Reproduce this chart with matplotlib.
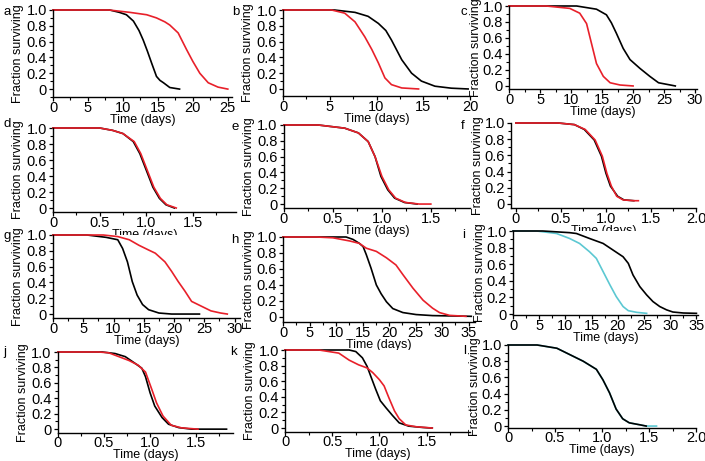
import matplotlib
matplotlib.use('Agg')
from matplotlib import pyplot as plt
from matplotlib.ticker import MultipleLocator, FuncFormatter

plt.rcParams['font.family'] = ['Liberation Sans', 'DejaVu Sans']

RED = '#e8202a'
CYAN = '#5cc8d2'
BLACK = '#000000'

# survival curves: time (days), fraction surviving
a_black_t = [0, 8.1, 9.5, 10.5, 11.5, 12.3, 12.9, 13.5, 14.1, 14.8, 15.3, 15.8, 16.7, 18.1]
a_black_s = [1.0, 1.0, 0.97, 0.94, 0.86, 0.74, 0.62, 0.48, 0.33, 0.16, 0.11, 0.08, 0.02, 0.0]
a_red_t = [0, 8, 11, 13.4, 14.8, 16.0, 16.7, 17.9, 19.1, 20.0, 21.0, 22.2, 23.6, 25.0]
a_red_s = [1.0, 1.0, 0.97, 0.94, 0.90, 0.85, 0.81, 0.71, 0.50, 0.35, 0.20, 0.08, 0.025, 0.0]

b_black_t = [0, 5.5, 7.7, 9.1, 10.2, 11.0, 11.6, 12.7, 13.75, 14.8, 16.25, 18.0, 19.8]
b_black_s = [1.0, 1.0, 0.97, 0.92, 0.83, 0.74, 0.62, 0.37, 0.20, 0.10, 0.035, 0.01, 0.0]
b_red_t = [0, 5.2, 6.6, 7.7, 8.75, 9.5, 10.2, 10.9, 11.6, 12.7, 14.5]
b_red_s = [1.0, 1.0, 0.96, 0.85, 0.66, 0.50, 0.33, 0.14, 0.055, 0.013, 0.0]

c_red_t = [0, 6, 9.8, 11.4, 12.5, 13.3, 14.1, 15.2, 16.3, 17.9, 20.0]
c_red_s = [1.0, 1.0, 0.97, 0.91, 0.78, 0.53, 0.28, 0.12, 0.04, 0.012, 0.0]
c_black_t = [0, 10.9, 14.1, 15.7, 16.5, 17.3, 18.4, 19.5, 21.1, 22.7, 24.1, 26.0, 26.8]
c_black_s = [1.0, 1.0, 0.96, 0.89, 0.79, 0.66, 0.47, 0.33, 0.22, 0.12, 0.04, 0.012, 0.0]

d_black_t = [0, 0.5, 0.64, 0.75, 0.86, 0.93, 1.0, 1.07, 1.14, 1.21, 1.30]
d_black_s = [1.0, 1.0, 0.97, 0.93, 0.83, 0.68, 0.47, 0.26, 0.12, 0.04, 0.0]
d_red_t = [0, 0.5, 0.64, 0.75, 0.87, 0.94, 1.01, 1.08, 1.15, 1.22, 1.32]
d_red_s = [1.0, 1.0, 0.97, 0.93, 0.83, 0.68, 0.47, 0.26, 0.12, 0.04, 0.0]

e_black_t = [0, 0.35, 0.62, 0.76, 0.86, 0.93, 0.99, 1.06, 1.13, 1.23, 1.36]
e_black_s = [1.0, 1.0, 0.96, 0.90, 0.79, 0.60, 0.35, 0.18, 0.075, 0.02, 0.0]
e_red_t = [0, 0.35, 0.62, 0.76, 0.86, 0.93, 1.0, 1.07, 1.14, 1.24, 1.38, 1.50]
e_red_s = [1.0, 1.0, 0.96, 0.90, 0.79, 0.60, 0.35, 0.18, 0.075, 0.02, 0.0, 0.0]

f_black_t = [0, 0.47, 0.65, 0.76, 0.87, 0.95, 1.0, 1.05, 1.13, 1.20, 1.31]
f_black_s = [1.0, 1.0, 0.98, 0.92, 0.79, 0.59, 0.38, 0.22, 0.095, 0.05, 0.04]
f_red_t = [0, 0.47, 0.65, 0.77, 0.88, 0.96, 1.01, 1.06, 1.12, 1.19, 1.31, 1.36]
f_red_s = [1.0, 1.0, 0.98, 0.92, 0.79, 0.59, 0.38, 0.22, 0.095, 0.05, 0.04, 0.04]

g_black_t = [0, 5.6, 8.8, 10.7, 11.5, 12.3, 13.1, 13.9, 14.8, 15.8, 17.5, 19.6, 24.2]
g_black_s = [1.0, 1.0, 0.97, 0.94, 0.83, 0.66, 0.41, 0.24, 0.12, 0.055, 0.013, 0.0, 0.0]
g_red_t = [0, 8.3, 10.7, 12.6, 14.2, 15.8, 16.9, 18.5, 19.6, 20.7, 21.8, 22.9, 24.5,
           26.1, 27.7, 28.8]
g_red_s = [1.0, 1.0, 0.98, 0.94, 0.87, 0.81, 0.77, 0.66, 0.54, 0.41, 0.29, 0.16, 0.10,
           0.04, 0.013, 0.0]

h_black_t = [0, 9.4, 11.9, 13.2, 14.4, 15.1, 15.7, 16.6, 17.6, 18.5, 19.5, 20.7, 22.6,
             25.1, 28.2, 35.5]
h_black_s = [1.0, 1.0, 1.0, 0.97, 0.92, 0.88, 0.78, 0.61, 0.40, 0.29, 0.19, 0.105, 0.055,
             0.03, 0.017, 0.008]
h_red_t = [0, 6.3, 9.4, 12.6, 14.4, 15.7, 17.6, 19.5, 21.3, 22.6, 24.5, 26.4, 28.2, 29.5,
           31.4, 34.5]
h_red_s = [1.0, 1.0, 0.99, 0.95, 0.92, 0.86, 0.82, 0.74, 0.65, 0.53, 0.36, 0.21, 0.11,
           0.055, 0.02, 0.008]

i_cyan_t = [0, 4.5, 8.3, 10.8, 12.7, 14.6, 15.9, 17.2, 18.5, 19.7, 21.0, 22.0, 23.6, 25.5]
i_cyan_s = [1.0, 1.0, 0.97, 0.91, 0.85, 0.75, 0.67, 0.51, 0.35, 0.21, 0.09, 0.04, 0.02,
            0.008]
i_black_t = [0, 5.7, 10.8, 12.1, 14.6, 17.2, 19.1, 21.0, 22.0, 22.9, 24.2, 25.5, 26.7,
             28.0, 29.3, 30.5, 32.5, 35.0]
i_black_s = [1.0, 1.0, 0.98, 0.97, 0.91, 0.85, 0.77, 0.69, 0.61, 0.47, 0.33, 0.23, 0.15,
             0.09, 0.05, 0.024, 0.012, 0.008]

j_black_t = [0, 0.48, 0.62, 0.73, 0.84, 0.91, 0.95, 1.0, 1.05, 1.13, 1.20, 1.31, 1.45, 1.83]
j_black_s = [1.0, 1.0, 0.98, 0.94, 0.85, 0.79, 0.68, 0.47, 0.30, 0.15, 0.064, 0.02, 0.0,
             0.0]
j_red_t = [0, 0.44, 0.55, 0.66, 0.77, 0.87, 0.95, 1.02, 1.07, 1.14, 1.23, 1.34, 1.52]
j_red_s = [1.0, 1.0, 0.99, 0.94, 0.89, 0.83, 0.74, 0.51, 0.34, 0.17, 0.05, 0.017, 0.0]

k_black_t = [0, 0.68, 0.75, 0.82, 0.87, 0.91, 0.96, 1.01, 1.07, 1.14, 1.21, 1.31, 1.46,
             1.56]
k_black_s = [1.0, 1.0, 0.98, 0.90, 0.79, 0.66, 0.50, 0.35, 0.26, 0.16, 0.067, 0.025,
             0.008, 0.0]
k_red_t = [0, 0.36, 0.57, 0.68, 0.78, 0.87, 0.93, 1.0, 1.05, 1.10, 1.16, 1.21, 1.28, 1.39,
           1.53, 1.56]
k_red_s = [1.0, 1.0, 0.96, 0.87, 0.81, 0.77, 0.71, 0.62, 0.54, 0.39, 0.22, 0.12, 0.04,
           0.017, 0.004, 0.0]

l_cyan_t = [0, 0.31, 0.52, 0.66, 0.80, 0.94, 1.01, 1.08, 1.15, 1.22, 1.29, 1.40, 1.47,
            1.58]
l_cyan_s = [1.0, 1.0, 0.96, 0.88, 0.80, 0.70, 0.57, 0.41, 0.21, 0.09, 0.04, 0.016, 0.0,
            0.0]
l_black_t = [0, 0.31, 0.52, 0.66, 0.80, 0.94, 1.01, 1.08, 1.15, 1.22, 1.29, 1.40, 1.47]
l_black_s = [1.0, 1.0, 0.96, 0.88, 0.80, 0.70, 0.57, 0.41, 0.21, 0.09, 0.04, 0.016, 0.0]

panel_letters = ['a', 'b', 'c', 'd', 'e', 'f', 'g', 'h', 'i', 'j', 'k', 'l']
panel_curves = [
  [(a_black_t, a_black_s, BLACK), (a_red_t, a_red_s, RED)],
  [(b_black_t, b_black_s, BLACK), (b_red_t, b_red_s, RED)],
  [(c_black_t, c_black_s, BLACK), (c_red_t, c_red_s, RED)],
  [(d_black_t, d_black_s, BLACK), (d_red_t, d_red_s, RED)],
  [(e_black_t, e_black_s, BLACK), (e_red_t, e_red_s, RED)],
  [(f_black_t, f_black_s, BLACK), (f_red_t, f_red_s, RED)],
  [(g_black_t, g_black_s, BLACK), (g_red_t, g_red_s, RED)],
  [(h_black_t, h_black_s, BLACK), (h_red_t, h_red_s, RED)],
  [(i_cyan_t, i_cyan_s, CYAN), (i_black_t, i_black_s, BLACK)],
  [(j_black_t, j_black_s, BLACK), (j_red_t, j_red_s, RED)],
  [(k_black_t, k_black_s, BLACK), (k_red_t, k_red_s, RED)],
  [(l_cyan_t, l_cyan_s, CYAN), (l_black_t, l_black_s, BLACK)],
]

# layout in pixels: left, right, top (y=1.0), bottom (x axis), ymin, xmin, xmax, xstep
layout = [
  (53, 232, 10, 97, -0.10, 0, 25.6, 5),
  (283, 470, 10, 96, -0.089, 0, 20.0, 5),
  (509, 697, 6, 89, -0.038, 0, 30.3, 5),
  (53, 236, 128, 212, -0.05, 0, 1.96, 0.5),
  (284, 470, 125, 208, -0.05, 0, 1.90, 0.5),
  (511, 696, 123, 208, -0.05, -0.054, 2.0, 0.5),
  (53, 240, 235, 318, -0.05, 0, 30.9, 5),
  (283, 475, 237, 322, -0.063, 0, 36.2, 5),
  (513, 698, 231, 315, -0.012, 0, 35.3, 5),
  (58, 233, 352, 433, -0.05, 0, 1.90, 0.5),
  (285, 470, 350, 432, -0.05, 0, 1.96, 0.5),
  (508, 696, 345, 428, -0.024, 0, 2.0, 0.5),
]
letter_pos = [(4, 6), (232, 6), (460, 6), (4, 118), (232, 121), (461, 120),
              (4, 230), (231, 234), (462, 229), (3, 346), (230, 346), (463, 345)]
ylabel_pad = [2, 2, 0, 2, 2, 0, 2, 1, 0, 2, 2, 0]
xtick_pad = [0, 0, 0, 0, 0, 0, 0, 0, 0, -0.5, -0.5, -0.5]
xlabel_pad = [-1, -1, -1, -1, -1, -1, -1, -1, -1, -0.9, -0.9, -0.9]

W, H = 705, 461


def yfmt(v, _):
  if abs(v) < 1e-9:
    return '0'
  return '%.1f' % v


def xfmt_days(v, _):
  return '%d' % round(v)


def xfmt_frac(v, _):
  if abs(v) < 1e-9:
    return '0'
  return '%.1f' % v


def main():
  fig = plt.figure(figsize=(W / 100, H / 100), dpi=100)

  for n, letter in enumerate(panel_letters):
    left, right, top, bottom, ymin, xmin, xmax, xstep = layout[n]
    ax = fig.add_axes([left / W, 1 - bottom / H, (right - left) / W, (bottom - top) / H])
    for t, s, col in panel_curves[n]:
      ax.plot(t, s, color=col, lw=1.2, clip_on=False, solid_joinstyle='round')
    ax.set_xlim(xmin, xmax)
    ax.set_ylim(ymin, 1.0)
    for side in ('top', 'right'):
      ax.spines[side].set_visible(False)
    for side in ('left', 'bottom'):
      ax.spines[side].set_linewidth(1.0)
    ax.yaxis.set_major_locator(MultipleLocator(0.2))
    ax.yaxis.set_minor_locator(MultipleLocator(0.1))
    ax.yaxis.set_major_formatter(FuncFormatter(yfmt))
    ax.xaxis.set_major_locator(MultipleLocator(xstep))
    ax.xaxis.set_minor_locator(MultipleLocator(xstep / 2))
    if xstep >= 1:
      ax.xaxis.set_major_formatter(FuncFormatter(xfmt_days))
    else:
      ax.xaxis.set_major_formatter(FuncFormatter(xfmt_frac))
    ax.tick_params(which='major', length=3, width=0.9, labelsize=10.5, direction='out')
    ax.tick_params(which='minor', length=2, width=0.8, direction='out')
    ax.tick_params(axis='x', pad=xtick_pad[n])
    ax.tick_params(axis='y', pad=1.5)
    ax.set_xlabel('Time (days)', fontsize=9, labelpad=xlabel_pad[n])
    ax.set_ylabel('Fraction surviving', fontsize=9, labelpad=ylabel_pad[n])
    fig.text(letter_pos[n][0] / W, 1 - letter_pos[n][1] / H, letter, fontsize=9.5,
             ha='left', va='top')

  fig.savefig('out.png', dpi=100)


if __name__ == '__main__':
  main()
